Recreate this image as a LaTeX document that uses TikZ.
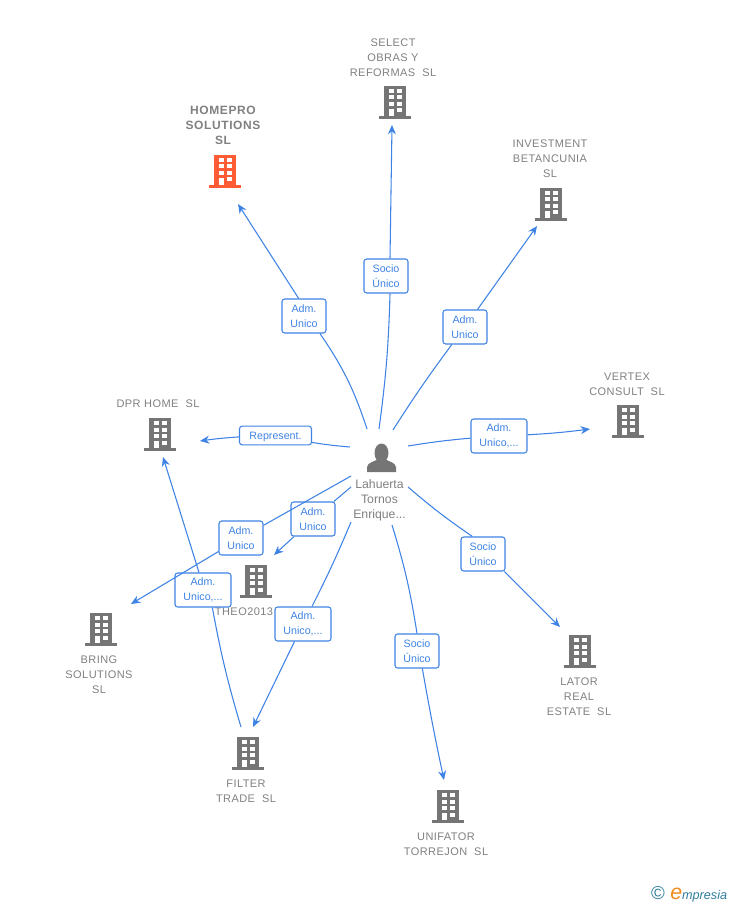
\documentclass[tikz,border=0pt]{standalone}
\usepackage{fontspec}
\setmainfont{Liberation Sans}
\usetikzlibrary{arrows.meta}
\definecolor{linkblue}{HTML}{3F83E4}
\definecolor{labelgray}{HTML}{808080}
\definecolor{iconred}{HTML}{FF5C35}
\definecolor{icongray}{HTML}{757575}
\definecolor{logoblue}{HTML}{2F7C9C}
\definecolor{logoorange}{HTML}{F08A1D}
\tikzset{
    link/.style={draw=linkblue, line width=0.8pt},
    linkend/.style={link, -{Stealth[length=7pt,width=6pt]}},
    role/.style={draw=linkblue, line width=0.8pt, rounded corners=2pt, fill=white, text=linkblue,
        align=center, font=\fontsize{8}{11.2}\selectfont, minimum height=25.5pt, inner sep=0pt},
    firm/.style={text=labelgray, align=center, font=\fontsize{8.25}{11.2}\selectfont\addfontfeature{LetterSpace=4}, inner sep=0pt},
    building/.pic={
        \fill (-11,-16) rectangle (11,14);
        \fill (-16,14) rectangle (16,17);
        \foreach \yy in {-13,-6.5,0} {
            \fill[white] (-6.5,\yy) rectangle (-1.5,\yy+4);
            \fill[white] (1.5,\yy) rectangle (6.5,\yy+4);
        }
        \fill[white] (1.5,6.5) rectangle (6.5,10.5);
        \fill[white] (-6.5,7) rectangle (-1.5,14);
    }
}
\begin{document}
\begin{tikzpicture}[x=0.75pt,y=-0.75pt]
    \useasboundingbox (0,0) rectangle (728,905);

    % person in the middle
    \node(boss) at (381,458) [minimum size=21pt, inner sep=0pt] {};
    \fill[icongray] (381.5,453) ellipse (7 and 9.5);
    \fill[icongray] (367,472) -- (367,467) .. controls (368,462) and (374,462) .. (378,459)
        -- (385,459) .. controls (389,462) and (395,462) .. (396,467) -- (396,472) -- cycle;
    \node(bossname) at (379.5,500.5) [firm, font=\fontsize{9.2}{11.2}\selectfont] {Lahuerta\\Tornos\\Enrique...};

    % buildings with their names
    \pic[iconred] at (225,171) {building};
    \pic[icongray] at (395,102) {building};
    \pic[icongray] at (551,204) {building};
    \pic[icongray] at (628,421) {building};
    \pic[icongray] at (160,434) {building};
    \pic[icongray] at (256,581) {building};
    \pic[icongray] at (101,629) {building};
    \pic[icongray] at (580,651) {building};
    \pic[icongray] at (248,753) {building};
    \pic[icongray] at (448,806) {building};

    \node(homepro) at (223,125) [firm, font=\fontsize{9}{11.2}\selectfont\bfseries\addfontfeature{LetterSpace=5}] {HOMEPRO\\SOLUTIONS\\SL};
    \node(select) at (393,58) [firm] {SELECT\\OBRAS Y\\REFORMAS~~SL};
    \node(investment) at (550,159) [firm] {INVESTMENT\\BETANCUNIA\\SL};
    \node(vertex) at (627,384) [firm] {VERTEX\\CONSULT~~SL};
    \node(dpr) at (158,404) [firm] {DPR HOME~~SL};
    \node(theo) at (244,612) [firm] {THEO2013};
    \node(bring) at (99,675) [firm] {BRING\\SOLUTIONS\\SL};
    \node(lator) at (579,697) [firm] {LATOR\\REAL\\ESTATE~~SL};
    \node(filter) at (246,791) [firm] {FILTER\\TRADE~~SL};
    \node(unifator) at (446,844) [firm] {UNIFATOR\\TORREJON~~SL};

    % role boxes
    \node(ra) at (304,316) [role, minimum width=33pt] {Adm.\\Unico};
    \node(rb) at (386,276) [role, minimum width=33pt] {Socio\\Único};
    \node(rc) at (465,327) [role, minimum width=33pt] {Adm.\\Unico};
    \node(rd) at (499,436) [role, minimum width=42pt] {Adm.\\Unico,...};
    \node(re) at (275.5,435.5) [role, minimum width=54pt, minimum height=14pt, text height=6.5pt, text depth=1pt] {Represent.};
    \node(rf) at (313,519) [role, minimum width=33pt] {Adm.\\Unico};
    \node(rg) at (241,538) [role, minimum width=33pt] {Adm.\\Unico};
    \node(rh) at (203,590) [role, minimum width=42pt] {Adm.\\Unico,...};
    \node(ri) at (303,624) [role, minimum width=42pt] {Adm.\\Unico,...};
    \node(rj) at (417,651) [role, minimum width=33pt] {Socio\\Único};
    \node(rk) at (483,554) [role, minimum width=33pt] {Socio\\Único};

    % free ends of the links
    \coordinate(sa) at (367,429);
    \coordinate(ea) at (238,204);
    \coordinate(sb) at (379,429);
    \coordinate(eb) at (392,125);
    \coordinate(sc) at (393,430);
    \coordinate(ec) at (537,226);
    \coordinate(sd) at (408,446);
    \coordinate(ed) at (590,429);
    \coordinate(se) at (350,447);
    \coordinate(ee) at (200,441);
    \coordinate(sf) at (351,487);
    \coordinate(ef) at (274,555);
    \coordinate(sg) at (351,476);
    \coordinate(eg) at (131,604);
    \coordinate(sh) at (241,727);
    \coordinate(eh) at (163,457);
    \coordinate(si) at (351,522);
    \coordinate(ei) at (253,727);
    \coordinate(sj) at (392,525);
    \coordinate(ej) at (444,780);
    \coordinate(sk) at (408,487);
    \coordinate(ek) at (560,627);

    \draw[link] (sa) to [bend right=8] ([xshift=12pt]ra.south);
    \draw[linkend] ([xshift=-4pt]ra.north) -- (ea);
    \draw[link] (sb) to [bend right=3] ([xshift=3pt]rb.south);
    \draw[linkend] ([xshift=3pt]rb.north) -- (eb);
    \draw[link] (sc) to [bend left=2] (rc);
    \draw[linkend] (rc) -- (ec);
    \draw[link] (sd) to [bend left=2] (rd);
    \draw[linkend] (rd) to [bend right=2] (ed);
    \draw[link] (se) to [bend left=2] (re);
    \draw[linkend] (re) to [bend right=2] (ee);
    \draw[link] (sf) -- (rf);
    \draw[linkend] (rf) -- (ef);
    \draw[link] (sg) -- (rg);
    \draw[linkend] (rg) -- (eg);
    \draw[link] (sh) to [bend left=3] ([xshift=7pt]rh.south);
    \draw[linkend] ([xshift=-3pt]rh.north) -- (eh);
    \draw[link] (si) to [bend left=2] (ri);
    \draw[linkend] (ri) -- (ei);
    \draw[link] (sj) to [bend left=4] (rj.north);
    \draw[linkend] ([xshift=4pt]rj.south) to [bend right=1] (ej);
    \draw[link] (sk) to [bend right=3] ([xshift=-8pt]rk.north);
    \draw[linkend] ([xshift=16pt]rk.south) -- (ek);

    % logo
    \node(copyr) at (658,893.5) [text=logoblue, font=\fontsize{14}{14}\selectfont, inner sep=0pt] {©};
    \node(brand) at (670,899) [anchor=base west, inner sep=0pt, font=\fontsize{9.5}{11}\selectfont\itshape, text=logoblue] {\textcolor{logoorange}{\fontsize{16}{11}\selectfont e}mpresia};
\end{tikzpicture}
\end{document}
